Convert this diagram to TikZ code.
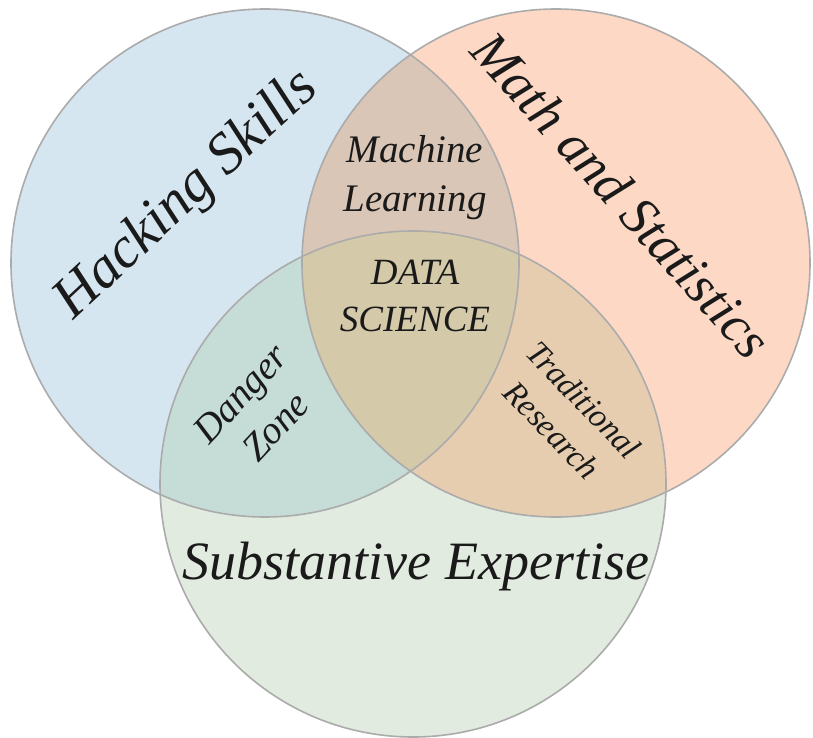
\documentclass[tikz,border=0pt]{standalone}
\usepackage{fontspec}
\setmainfont{Liberation Serif}
\definecolor{cblue}{HTML}{D6E6F0}
\definecolor{corange}{HTML}{FDD9C5}
\definecolor{cgreen}{HTML}{E1EBDF}
\definecolor{cbo}{HTML}{DAC6B6}
\definecolor{cbg}{HTML}{C6DCD7}
\definecolor{cog}{HTML}{E7CDAF}
\definecolor{call}{HTML}{D4C9A9}
\definecolor{cline}{HTML}{ABABAB}
\definecolor{ctext}{HTML}{1A1A1A}
\begin{document}
\begin{tikzpicture}[x=1pt,y=-1pt,
  setborder/.style={draw=cline,line width=1.6pt},
  lbl/.style={text=ctext,inner sep=0pt,align=center}]
\useasboundingbox (0,0) rectangle (813,738);
\coordinate (cb) at (265,263);
\coordinate (co) at (556,263);
\coordinate (cg) at (413,484);
% base fills
\fill[cblue] (cb) circle[radius=254pt];
\fill[corange] (co) circle[radius=254pt];
\fill[cgreen] (cg) circle[radius=253pt];
% orange & green
\begin{scope}
  \clip (co) circle[radius=254pt];
  \fill[cog] (cg) circle[radius=253pt];
\end{scope}
% blue overlaps
\begin{scope}
  \clip (cb) circle[radius=254pt];
  \fill[cbo] (co) circle[radius=254pt];
  \fill[cbg] (cg) circle[radius=253pt];
  \clip (co) circle[radius=254pt];
  \fill[call] (cg) circle[radius=253pt];
\end{scope}
% outlines
\draw[setborder] (cb) circle[radius=254pt];
\draw[setborder] (co) circle[radius=254pt];
\draw[setborder] (cg) circle[radius=253pt];
% labels
\node[lbl,rotate=43,font=\itshape\fontsize{58}{64}\selectfont] (hack) at (187,196) {Hacking Skills};
\node[lbl,rotate=-48,font=\itshape\fontsize{54}{60}\selectfont] (math) at (622,195) {Math and Statistics};
\node[lbl,anchor=base,font=\itshape\fontsize{54}{60}\selectfont] (subst) at (416,579) {Substantive Expertise};
\node[lbl,font=\itshape\fontsize{39}{49}\selectfont] (ml) at (415,178) {Machine\\Learning};
\node[lbl,font=\itshape\fontsize{37}{47}\selectfont] (ds) at (415,296) {DATA\\SCIENCE};
\node[lbl,rotate=47,font=\itshape\fontsize{39}{48}\selectfont] (dz) at (258,410) {Danger\\Zone};
\node[lbl,rotate=-46,font=\itshape\fontsize{33}{44}\selectfont] (tr) at (568,415) {Traditional\\Research};
\end{tikzpicture}
\end{document}
